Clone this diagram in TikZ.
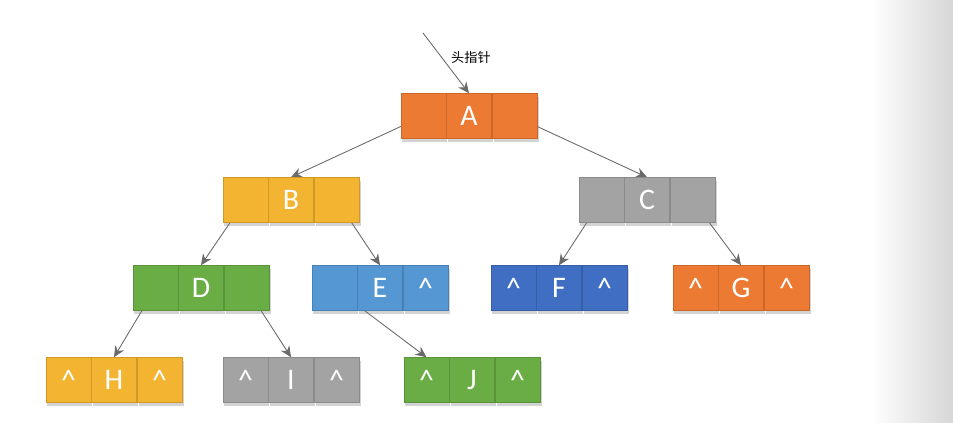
\documentclass[tikz,border=0pt]{standalone}
\usepackage{fontspec}
\setsansfont{Carlito}
\newfontfamily\cjkfont{Noto Sans CJK SC}
\usetikzlibrary{arrows.meta,positioning,shadows,backgrounds}
\definecolor{NodeOrange}{HTML}{EC7A33}
\definecolor{NodeGold}{HTML}{F3B431}
\definecolor{NodeGray}{HTML}{A3A3A3}
\definecolor{NodeGreen}{HTML}{6AAD45}
\definecolor{NodeSky}{HTML}{5597D3}
\definecolor{NodeBlue}{HTML}{3F6EC2}
\definecolor{LinkGray}{HTML}{6A6A6A}

% one list node: left pointer, data, right pointer
\newcommand{\listnode}[7]{%
  \node[cell,fill=#4,draw=#4!85!black] (#1) at (#2,#3) {#6};
  \node[cell,fill=#4,draw=#4!85!black,left=0pt of #1] (#1-l) {#5};
  \node[cell,fill=#4,draw=#4!85!black,right=0pt of #1] (#1-r) {#7};
}
\newcommand{\nil}{\textasciicircum}

\begin{document}
\begin{tikzpicture}[x=0.2mm,y=-0.2mm,
    cell/.style={minimum width=9mm,minimum height=9mm,inner sep=0pt,line width=0.3pt,
      text=white,font=\sffamily\fontsize{17}{17}\selectfont,
      drop shadow={shadow xshift=0.3mm,shadow yshift=-0.6mm,opacity=0.35}},
    link/.style={-{Stealth[length=2.2mm,width=2mm]},LinkGray,line width=0.5pt}]
  \useasboundingbox (0,0) rectangle (953,422);
  \shade[left color=white,right color=black!16] (872,0) rectangle (953,422);

  \listnode{A}{469}{116}{NodeOrange}{}{A}{}
  \listnode{B}{291}{200}{NodeGold}{}{B}{}
  \listnode{C}{647}{200}{NodeGray}{}{C}{}
  \listnode{D}{201}{288}{NodeGreen}{}{D}{}
  \listnode{E}{380}{288}{NodeSky}{}{E}{\nil}
  \listnode{F}{559}{288}{NodeBlue}{\nil}{F}{\nil}
  \listnode{G}{741}{288}{NodeOrange}{\nil}{G}{\nil}
  \listnode{H}{114}{380}{NodeGold}{\nil}{H}{\nil}
  \listnode{I}{291}{380}{NodeGray}{\nil}{I}{\nil}
  \listnode{J}{472}{380}{NodeGreen}{\nil}{J}{\nil}

  \coordinate (head) at (423,33);
  \node[font=\cjkfont\fontsize{7.5}{7.5}\selectfont] (headlabel) at (471,57) {头指针};

  \begin{scope}[on background layer]
    \draw[link] (head) -- (A.north);
    \draw[link] (A-l.center) -- (B.north);
    \draw[link] (A-r.center) -- (C.north);
    \draw[link] (B-l.center) -- (D.north);
    \draw[link] (B-r.center) -- (E.north);
    \draw[link] (C-l.center) -- (F.north);
    \draw[link] (C-r.center) -- (G.north);
    \draw[link] (D-l.center) -- (H.north);
    \draw[link] (D-r.center) -- (I.north);
    \draw[link] (E-l.center) -- (J-l.north);
  \end{scope}
\end{tikzpicture}
\end{document}
